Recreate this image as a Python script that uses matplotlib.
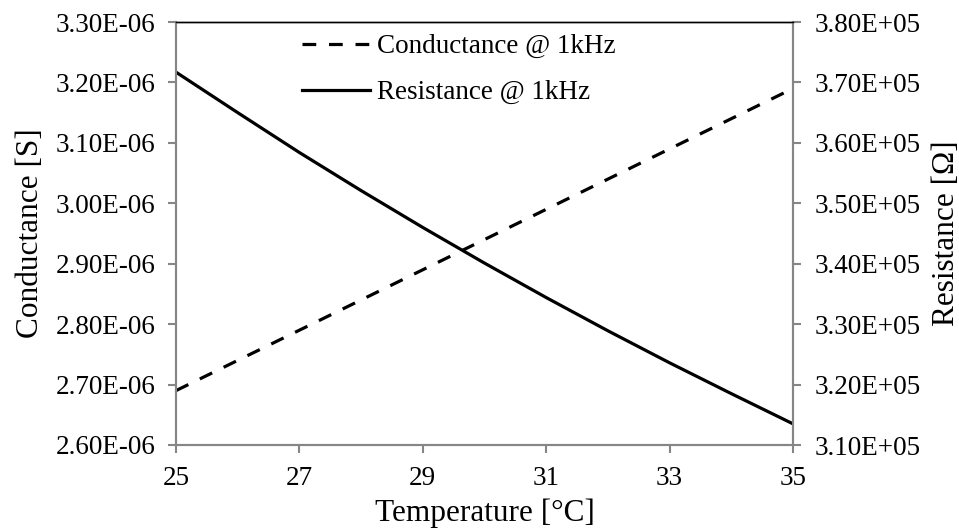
import matplotlib
matplotlib.use("Agg")
import matplotlib.pyplot as plt
from matplotlib.ticker import FuncFormatter

plt.rcParams['font.family'] = ['Liberation Serif', 'DejaVu Serif']

temperature = [25, 26, 27, 28, 29, 30, 31, 32, 33, 34, 35]
conductance = [2.69e-06, 2.74e-06, 2.79e-06, 2.84e-06, 2.89e-06, 2.94e-06,
               2.99e-06, 3.04e-06, 3.09e-06, 3.14e-06, 3.19e-06]
resistance = [3.717e+05, 3.650e+05, 3.584e+05, 3.521e+05, 3.460e+05, 3.401e+05,
              3.344e+05, 3.289e+05, 3.236e+05, 3.185e+05, 3.135e+05]
x_ticks = [25, 27, 29, 31, 33, 35]
left_ticks = [2.6e-06, 2.7e-06, 2.8e-06, 2.9e-06, 3.0e-06, 3.1e-06, 3.2e-06, 3.3e-06]
right_ticks = [3.1e+05, 3.2e+05, 3.3e+05, 3.4e+05, 3.5e+05, 3.6e+05, 3.7e+05, 3.8e+05]

GRAY = '#868686'
FS = 19.5

fig = plt.figure(figsize=(9.59, 5.31), dpi=100)
ax = fig.add_axes([176/959, 1-445/531, (793-176)/959, (445-22)/531])
ax2 = ax.twinx()

l1, = ax.plot(temperature, conductance, color='black', lw=2.3, dashes=(4.3, 4.0),
              label='Conductance @ 1kHz')
l2, = ax2.plot(temperature, resistance, color='black', lw=2.3,
               label='Resistance @ 1kHz')

ax.set_xlim(25, 35)
ax.set_ylim(2.6e-06, 3.3e-06)
ax2.set_ylim(3.1e+05, 3.8e+05)
ax.set_xticks(x_ticks)
ax.set_yticks(left_ticks)
ax2.set_yticks(right_ticks)

def sci(v, pos):
    return '%.2E' % v

ax.yaxis.set_major_formatter(FuncFormatter(sci))
ax2.yaxis.set_major_formatter(FuncFormatter(sci))

for a in (ax, ax2):
    for side in ('left', 'right', 'bottom'):
        a.spines[side].set_color(GRAY)
        a.spines[side].set_linewidth(1.5)
    a.spines['top'].set_color('black')
    a.spines['top'].set_linewidth(1.0)
    a.tick_params(colors=GRAY, labelcolor='black', width=1.5, length=5.5,
                  direction='out', labelsize=FS)
ax.tick_params(axis='y', pad=9)
ax2.tick_params(axis='y', pad=10)
ax.tick_params(axis='x', pad=9.5)

ax.set_xlabel('Temperature [°C]', fontsize=22.5, labelpad=5.5)
ax.set_ylabel('Conductance [S]', fontsize=22.5, labelpad=8)
ax2.set_ylabel('Resistance [Ω]', fontsize=22.5, labelpad=8)

fig.legend(handles=[l1, l2], loc='upper left', bbox_to_anchor=(302/959, 1-34/531),
           frameon=False, fontsize=FS, handlelength=2.5, handletextpad=0.27,
           borderpad=0, borderaxespad=0, labelspacing=0.78)

fig.savefig('out.png', dpi=100)
